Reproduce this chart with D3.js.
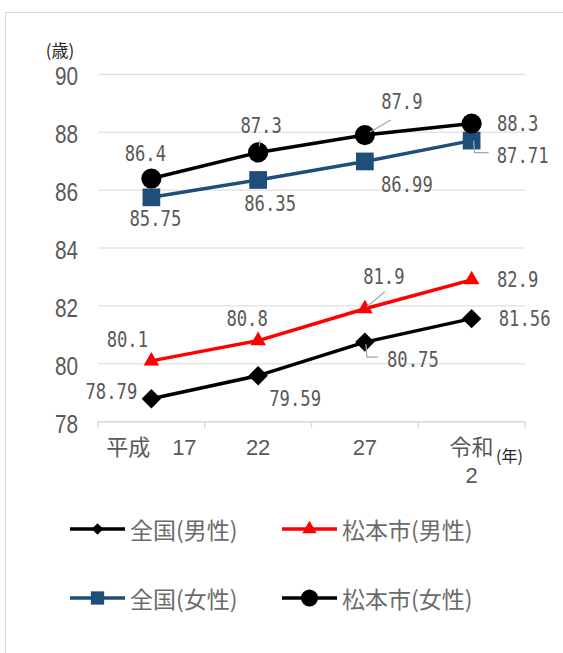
<!DOCTYPE html>
<html>
<head>
<meta charset="utf-8">
<script src="https://cdn.jsdelivr.net/npm/d3@7"></script>
<style>
  html, body { margin: 0; padding: 0; background: #fff; }
  svg { display: block; }
</style>
</head>
<body>
<svg id="chart" width="563" height="653"></svg>
<script>
// 平均寿命の推移（全国・松本市、男女別）
const categories = ["平成　17", "22", "27", "令和\n2"];
const yTicks = [78, 80, 82, 84, 86, 88, 90];
const seriesNames = ["全国(男性)", "松本市(男性)", "全国(女性)", "松本市(女性)"];
const nationalMale = [78.79, 79.59, 80.75, 81.56];
const matsumotoMale = [80.1, 80.8, 81.9, 82.9];
const nationalFemale = [85.75, 86.35, 86.99, 87.71];
const matsumotoFemale = [86.4, 87.3, 87.9, 88.3];
const yUnit = "(歳)";
const xUnit = "(年)";

const seriesValues = [nationalMale, matsumotoMale, nationalFemale, matsumotoFemale];

// label placement relative to each point: [dx, dy], optional leader polyline
const labelLayout = [
  [[-40, -7], [37, 23], [48, 18, [[1, 2], [2, 15], [13, 15]]], [53, 0]],
  [[-24, -21], [-11, -22], [19, -32, [[2, -2], [20, -17]]], [46, 0]],
  [[4, 22], [12, 24], [42, 23], [51, 15, [[2, 0], [3, 12], [17, 12]]]],
  [[-6, -25], [3, -27, [[1, -6], [2, -12]]], [37, -33, [[5, -3], [26, -15]]], [46, 0]]
];

const styles = [
  { color: "#000000", marker: "diamond" },
  { color: "#ff0000", marker: "triangle" },
  { color: "#1f4e79", marker: "square" },
  { color: "#000000", marker: "circle" }
];

const svg = d3.select("#chart");
const plot = { left: 98, right: 525, top: 74.3, bottom: 421.7 };
const numFont = "'Liberation Sans', Arial, sans-serif";
const cjkFont = "'Noto Sans CJK JP', sans-serif";

// chart frame
svg.append("rect")
  .attr("x", 5.5).attr("y", 12.5)
  .attr("width", 600).attr("height", 700)
  .attr("fill", "none").attr("stroke", "#d9d9d9").attr("stroke-width", 1);

const x = d3.scaleBand().domain(categories).range([plot.left, plot.right]).padding(0);
const xc = d => x(d) + x.bandwidth() / 2;
const y = d3.scaleLinear().domain([78, 90]).range([plot.bottom, plot.top]);

// horizontal gridlines
svg.append("g").selectAll("line")
  .data(yTicks.filter(t => t !== 78))
  .join("line")
  .attr("x1", plot.left).attr("x2", plot.right)
  .attr("y1", d => y(d)).attr("y2", d => y(d))
  .attr("stroke", "#d9d9d9").attr("stroke-width", 1);

// y axis tick labels (narrowed numerals)
const yAxis = d3.axisLeft(y).tickValues(yTicks).tickSize(0).tickPadding(0).tickFormat(d3.format("d"));
const gy = svg.append("g").attr("transform", "translate(78,0)").call(yAxis);
gy.select(".domain").remove();
gy.selectAll("text")
  .attr("x", 0)
  .attr("font-family", numFont)
  .attr("font-size", 25).attr("fill", "#595959")
  .attr("dy", "0.42em")
  .attr("transform", "scale(0.83,1)");

svg.append("text")
  .attr("x", 60).attr("y", 49)
  .attr("text-anchor", "middle").attr("dominant-baseline", "central")
  .attr("font-family", cjkFont)
  .attr("font-size", 17).attr("fill", "#262626")
  .text(yUnit);

// x axis line and category separators
const xAxis = d3.axisBottom(x).tickSize(0).tickFormat(() => "");
const gx = svg.append("g").attr("transform", `translate(0,${plot.bottom})`).call(xAxis);
gx.select(".domain").attr("stroke", "#d9d9d9").attr("stroke-width", 1.5).attr("d", `M${plot.left},0H${plot.right}`);
gx.selectAll(".tick").remove();
gx.selectAll("line.sep")
  .data(d3.range(categories.length + 1))
  .join("line").attr("class", "sep")
  .attr("x1", i => plot.left + i * x.bandwidth())
  .attr("x2", i => plot.left + i * x.bandwidth())
  .attr("y1", 0).attr("y2", 6)
  .attr("stroke", "#d9d9d9").attr("stroke-width", 1.5);

const xLabels = svg.append("g");
categories.forEach(c => {
  const lines = c.split("\n");
  const t = xLabels.append("text")
    .attr("x", xc(c)).attr("y", 455)
    .attr("text-anchor", "middle")
    .attr("font-family", `${numFont.split(",")[0]}, ${cjkFont}`)
    .attr("font-size", 22).attr("fill", "#595959");
  lines.forEach((ln, i) => {
    t.append("tspan").attr("x", xc(c)).attr("dy", i === 0 ? 0 : 28).text(ln);
  });
});
svg.append("text")
  .attr("x", 496).attr("y", 462)
  .attr("font-family", cjkFont)
  .attr("font-size", 16).attr("fill", "#262626")
  .text(xUnit);

// marker drawing
const symbolTypes = {
  diamond: d3.symbolSquare2, triangle: d3.symbolTriangle2,
  square: d3.symbolSquare2, circle: d3.symbolCircle
};
const markerSize = { diamond: 240, triangle: 175, square: 400, circle: 320 };
const legendMarkerSize = { diamond: 85, triangle: 150, square: 225, circle: 230 };
function drawMarker(g, kind, cx, cy, size, color) {
  return g.append("path")
    .attr("d", d3.symbol().type(symbolTypes[kind]).size(size)())
    .attr("transform", `translate(${cx},${cy})${kind === "diamond" ? " rotate(45)" : ""}`)
    .attr("fill", color);
}

// series lines and markers
const line = d3.line().x((d, i) => xc(categories[i])).y(d => y(d));
seriesValues.forEach((vals, si) => {
  const st = styles[si];
  const g = svg.append("g");
  g.append("path").datum(vals)
    .attr("d", line)
    .attr("fill", "none")
    .attr("stroke", st.color).attr("stroke-width", 3.5)
    .attr("stroke-linejoin", "round");
  vals.forEach((v, i) => {
    drawMarker(g, st.marker, xc(categories[i]), y(v), markerSize[st.marker], st.color);
  });
});

// data labels with leader lines
const labelG = svg.append("g");
seriesValues.forEach((vals, si) => {
  vals.forEach((v, i) => {
    const px = xc(categories[i]), py = y(v);
    const [dx, dy, leader] = labelLayout[si][i];
    if (leader) {
      labelG.append("path")
        .attr("d", d3.line()(leader.map(([a, b]) => [px + a, py + b])))
        .attr("fill", "none").attr("stroke", "#a6a6a6").attr("stroke-width", 1.2);
    }
    labelG.append("text")
      .attr("transform", `translate(${px + dx},${py + dy}) scale(0.82,1)`)
      .attr("text-anchor", "middle").attr("dominant-baseline", "central")
      .attr("font-family", "'DejaVu Sans Mono', 'Liberation Mono', monospace")
      .attr("font-size", 21).attr("fill", "#595959")
      .text(String(v));
  });
});

// legend
const legendPos = [[70, 529], [282, 529], [70, 598], [282, 598]];
seriesNames.forEach((name, si) => {
  const [lx, ly] = legendPos[si];
  const st = styles[si];
  const g = svg.append("g");
  g.append("line")
    .attr("x1", lx).attr("x2", lx + 55).attr("y1", ly).attr("y2", ly)
    .attr("stroke", st.color).attr("stroke-width", 3.5);
  drawMarker(g, st.marker, lx + 27.5, ly, legendMarkerSize[st.marker], st.color);
  g.append("text")
    .attr("x", lx + 60).attr("y", ly)
    .attr("dominant-baseline", "central")
    .attr("font-family", cjkFont)
    .attr("font-size", 23).attr("fill", "#6b6b6b")
    .text(name);
});
</script>
</body>
</html>
